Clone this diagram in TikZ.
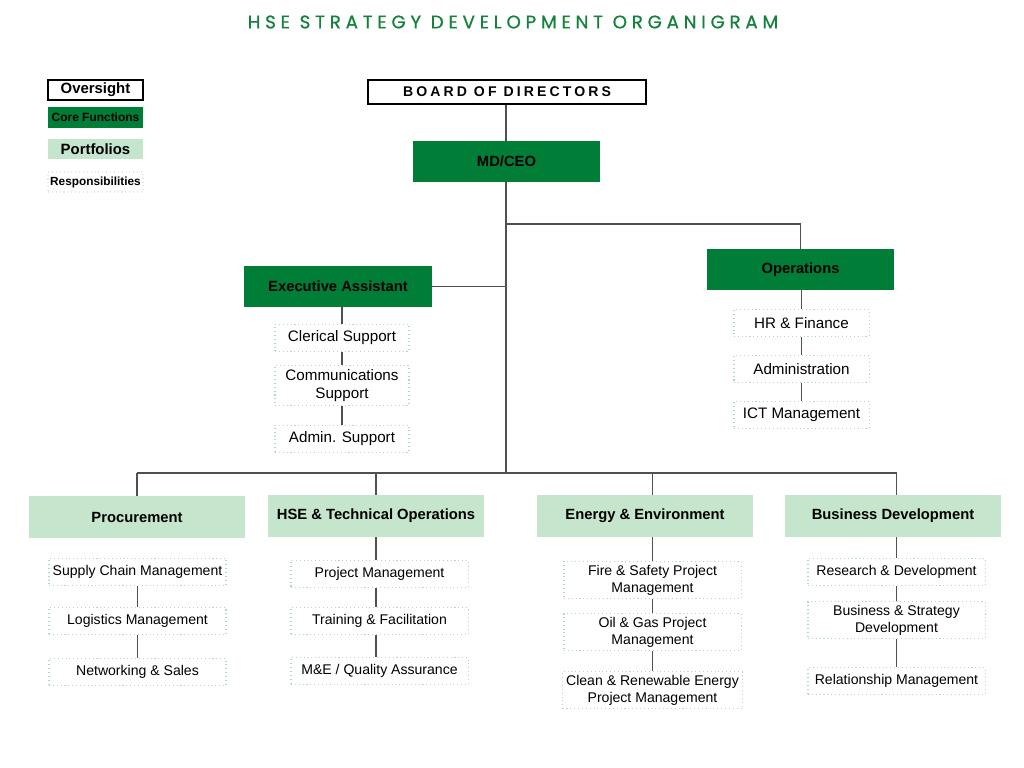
\documentclass[tikz,border=0pt]{standalone}
\usepackage{fontspec}
\setmainfont{Liberation Sans}
\newfontfamily\titlefont[LetterSpace=26, FakeBold=0.8]{Poppins}
\usetikzlibrary{positioning}
\definecolor{coregreen}{RGB}{0,125,55}
\definecolor{portgreen}{RGB}{197,229,205}
\definecolor{respgreen}{RGB}{175,218,186}
\definecolor{titlegreen}{RGB}{20,130,60}
\definecolor{linegray}{RGB}{80,80,80}

\begin{document}
\begin{tikzpicture}[
  x=0.025cm, y=-0.025cm,
  font=\fontsize{10.5}{12.5}\selectfont,
  core/.style={fill=coregreen, font=\fontsize{10.5}{12.5}\selectfont\bfseries,
               minimum width=4.7cm, minimum height=1.025cm, inner sep=0pt},
  port/.style={fill=portgreen, font=\fontsize{10.5}{12.5}\selectfont\bfseries,
               minimum width=5.4cm, minimum height=1.05cm, inner sep=0pt},
  resp/.style={draw=respgreen, dotted, line width=0.75pt, align=center,
               inner sep=2.5pt, minimum height=0.675cm},
  tres/.style={resp, minimum width=3.35cm, font=\fontsize{10.8}{13}\selectfont},
  bres/.style={resp, minimum width=4.425cm, font=\fontsize{10}{12}\selectfont},
  ln/.style={draw=linegray, line width=0.8pt}
]
\fill[white] (0,0) rectangle (1024,768);
\useasboundingbox (0,0) rectangle (1024,768);

\node[font=\titlefont\fontsize{13}{15}\selectfont, text=titlegreen] (title) at (513,22) {HSE STRATEGY DEVELOPMENT ORGANIGRAM};

\node[draw=black, line width=1.2pt, minimum width=2.375cm, minimum height=0.5cm, inner sep=0pt,
      font=\fontsize{10.6}{12}\selectfont\bfseries] (lgover) at (95.5,90) {Oversight};
\node[core, minimum width=2.375cm, minimum height=0.525cm, font=\fontsize{8.5}{10}\selectfont\bfseries] (lgcore) at (95.5,117.5) {Core Functions};
\node[port, minimum width=2.375cm, minimum height=0.5cm, font=\fontsize{10.6}{12}\selectfont\bfseries] (lgport) at (95.5,149) {Portfolios};
\node[resp, draw=respgreen!45, minimum width=2.375cm, minimum height=0.5cm, inner sep=0pt,
      font=\fontsize{8.4}{10}\selectfont\bfseries] (lgresp) at (95.5,182) {Responsibilities};

\node[draw=black, line width=1.2pt, minimum width=6.95cm, minimum height=0.6cm, inner sep=0pt,
      font=\fontsize{10}{12}\selectfont\bfseries\addfontfeatures{LetterSpace=22}] (board) at (507,92) {BOARD OF DIRECTORS};
\node[core, minimum width=4.675cm] (ceo) at (506.5,161.5) {MD/CEO};
\node[core] (exec) at (338,286.5) {Executive Assistant};
\node[core, minimum width=4.675cm] (ops) at (800.5,269.5) {Operations};

\node[tres] (clerical) at (342,338) {Clerical Support};
\node[tres, below=0.325cm of clerical] (comms) {Communications\\Support};
\node[tres, below=0.475cm of comms] (admsup) {Admin. Support};

\node[tres, minimum width=3.375cm] (hrfin) at (801.5,323) {HR \& Finance};
\node[tres, minimum width=3.375cm, below=0.45cm of hrfin] (admin) {Administration};
\node[tres, minimum width=3.375cm, below=0.45cm of admin] (ict) {ICT Management};

\node[port] (proc) at (137,517) {Procurement};
\node[port] (hse) at (376,516) {HSE \& Technical Operations};
\node[port] (energy) at (645,516) {Energy \& Environment};
\node[port] (bizdev) at (893,516) {Business Development};

\node[bres] (supply) at (137.5,572) {Supply Chain Management};
\node[bres, below=0.525cm of supply] (logist) {Logistics Management};
\node[bres, below=0.575cm of logist] (netsales) {Networking \& Sales};

\node[bres] (projmgt) at (379.5,574) {Project Management};
\node[bres, below=0.475cm of projmgt] (training) {Training \& Facilitation};
\node[bres, below=0.55cm of training] (mqa) {M\&E / Quality Assurance};

\node[bres] (fire) at (652.5,580) {Fire \& Safety Project\\Management};
\node[bres, below=0.35cm of fire] (oilgas) {Oil \& Gas Project\\Management};
\node[bres, below=0.5cm of oilgas] (clean) {Clean \& Renewable Energy\\Project Management};

\node[bres] (resdev) at (896.5,572) {Research \& Development};
\node[bres, below=0.375cm of resdev] (bsdev) {Business \& Strategy\\Development};
\node[bres, below=0.7cm of bsdev] (relmgt) {Relationship Management};

\coordinate (trunk) at (506,473);
\coordinate (jops) at (506,224);
\coordinate (jexec) at (506,286.5);

\draw[ln] (board.south -| trunk) -- (ceo.north -| trunk);
\draw[ln] (ceo.south -| trunk) -- (trunk);
\draw[ln] (jops) -| (ops.north);
\draw[ln] (jexec) -- (exec.east);

\draw[ln] (exec.south -| clerical) -- (clerical);
\draw[ln] (clerical) -- (comms);
\draw[ln] (comms) -- (admsup);
\draw[ln] (ops.south -| hrfin) -- (hrfin);
\draw[ln] (hrfin) -- (admin);
\draw[ln] (admin) -- (ict);

\draw[ln] (proc.north |- trunk) -- (resdev |- trunk);
\draw[ln] (proc.north |- trunk) -- (proc.north);
\draw[ln] (hse.north |- trunk) -- (hse.north);
\draw[ln] (fire |- trunk) -- (energy.north -| fire);
\draw[ln] (resdev |- trunk) -- (bizdev.north -| resdev);

\draw[ln] (supply) -- (logist);
\draw[ln] (logist) -- (netsales);
\draw[ln] (hse.south) -- (projmgt.north -| hse);
\draw[ln] (projmgt.south -| hse) -- (training.north -| hse);
\draw[ln] (training.south -| hse) -- (mqa.north -| hse);
\draw[ln] (energy.south -| fire) -- (fire);
\draw[ln] (fire) -- (oilgas);
\draw[ln] (oilgas) -- (clean);
\draw[ln] (bizdev.south -| resdev) -- (resdev);
\draw[ln] (resdev) -- (bsdev);
\draw[ln] (bsdev) -- (relmgt);
\end{tikzpicture}
\end{document}
